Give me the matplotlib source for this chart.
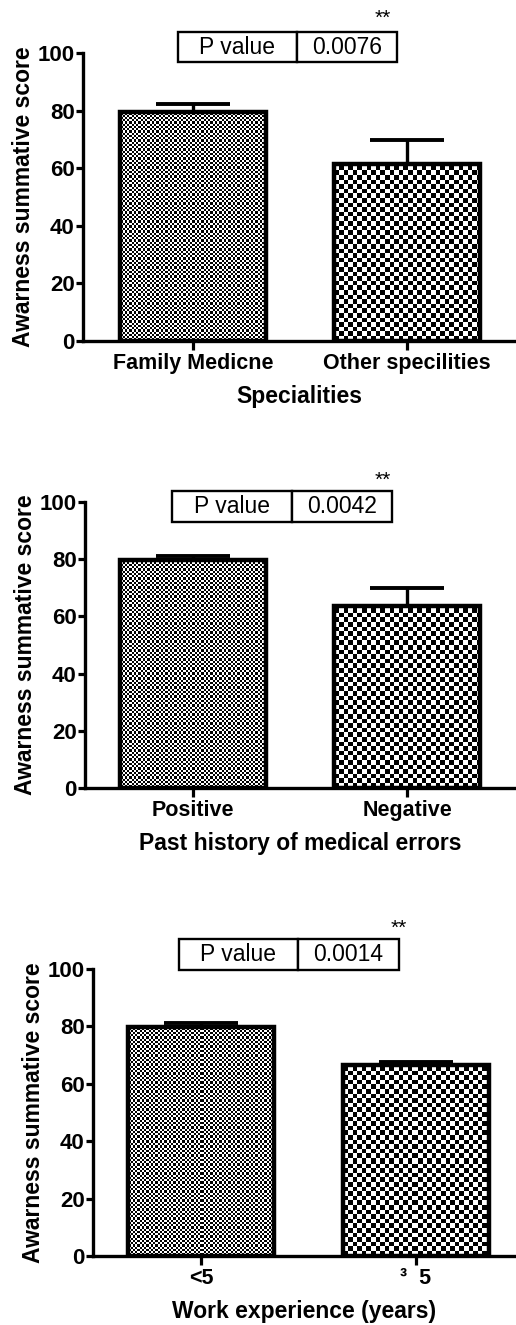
import numpy as np
import matplotlib
matplotlib.use("Agg")
import matplotlib.pyplot as plt

plt.rcParams['font.family'] = ['Liberation Sans', 'DejaVu Sans']

# ---- data ----
cats1 = ["Family Medicne", "Other specilities"]
means1 = [79.5, 61.5]
errs1 = [3.0, 8.2]
xlabel1 = "Specialities"
pval1 = "0.0076"

cats2 = ["Positive", "Negative"]
means2 = [79.6, 63.7]
errs2 = [1.4, 6.1]
xlabel2 = "Past history of medical errors"
pval2 = "0.0042"

cats3 = ["<5", "\u00b3  5"]
means3 = [79.9, 66.6]
errs3 = [1.2, 1.1]
xlabel3 = "Work experience (years)"
pval3 = "0.0014"

ylabel = "Awarness summative score"
yticks = [0, 20, 40, 60, 80, 100]
sig = "**"

W, H = 516, 1325
fig = plt.figure(figsize=(W / 100, H / 100), dpi=100)


def checker(ax, bar, cell):
    # pixel-resolution checkerboard clipped to the bar patch
    x0, y0 = bar.get_x(), bar.get_y()
    x1, y1 = x0 + bar.get_width(), y0 + bar.get_height()
    (px0, py0), (px1, py1) = ax.transData.transform([(x0, y0), (x1, y1)])
    nw, nh = int(round(px1 - px0)), int(round(py1 - py0))
    xx, yy = np.meshgrid(np.arange(nw), np.arange(nh))
    arr = ((np.floor(xx / cell) + np.floor(yy / cell)) % 2).astype(float)
    im = ax.imshow(arr, extent=(x0, x1, y0, y1), cmap='gray', vmin=0, vmax=1,
                   interpolation='nearest', aspect='auto', zorder=1, origin='lower')
    im.set_clip_path(bar)


def panel(rect, cats, means, errs, xlabel, pval, tbl_bbox, split, star_xy,
          xlim, xlabelpad):
    ax = fig.add_axes(rect)
    x = np.arange(len(cats))
    ax.set_xlim(*xlim)
    ax.set_ylim(0, 100)
    bars = ax.bar(x, means, width=0.68, facecolor='none', edgecolor='black',
                  linewidth=3.2, zorder=2)
    for b, c in zip(bars, [2.25, 4.6]):
        checker(ax, b, c)
    ax.set_xlim(*xlim)
    ax.set_ylim(0, 100)
    ax.errorbar(x, means, yerr=[np.zeros(len(errs)), errs], fmt='none',
                ecolor='black', elinewidth=2.4, capsize=26.5, capthick=2.8,
                zorder=3)
    for s in ['top', 'right']:
        ax.spines[s].set_visible(False)
    for s in ['left', 'bottom']:
        ax.spines[s].set_linewidth(2.4)
    ax.set_yticks(yticks)
    ax.set_yticklabels([str(t) for t in yticks], fontsize=16, fontweight='bold')
    ax.set_xticks(x)
    ax.set_xticklabels(cats, fontsize=15.5, fontweight='bold')
    ax.tick_params(axis='y', length=5, width=2.3, pad=1)
    ax.tick_params(axis='x', length=6.5, width=2.3, pad=2)
    ax.set_ylabel(ylabel, fontsize=16.5, fontweight='bold', labelpad=2)
    ax.set_xlabel(xlabel, fontsize=16.5, fontweight='bold', labelpad=xlabelpad)
    w = tbl_bbox[2]
    tbl = ax.table(cellText=[["P value", pval]], colWidths=[w * split, w * (1 - split)],
                   cellLoc='center', bbox=tbl_bbox)
    tbl.auto_set_font_size(False)
    tbl.set_fontsize(16.5)
    tbl.set_clip_on(False)
    for cell in tbl.get_celld().values():
        cell.set_linewidth(1.7)
        cell.set_clip_on(False)
    ax.text(star_xy[0], star_xy[1], sig, transform=ax.transAxes, ha='center',
            va='center', fontsize=15, clip_on=False)
    return ax


def rect_px(left, top, bottom):
    return [left / W, 1 - bottom / H, (W - left) / W, (bottom - top) / H]


panel(rect_px(83, 53.3, 340.7), cats1, means1, errs1, xlabel1, pval1,
      [0.219, 0.969, 0.506, 0.104], 0.543, (0.693, 1.12), (-0.514, 1.509), 8)
panel(rect_px(85, 501.7, 788.3), cats2, means2, errs2, xlabel2, pval2,
      [0.202, 0.930, 0.510, 0.108], 0.545, (0.691, 1.075), (-0.505, 1.509), 8)
panel(rect_px(93, 969, 1256), cats3, means3, errs3, xlabel3, pval3,
      [0.203, 0.9965, 0.520, 0.108], 0.541, (0.723, 1.14), (-0.502, 1.465), 8)

fig.savefig("out.png", dpi=100)
